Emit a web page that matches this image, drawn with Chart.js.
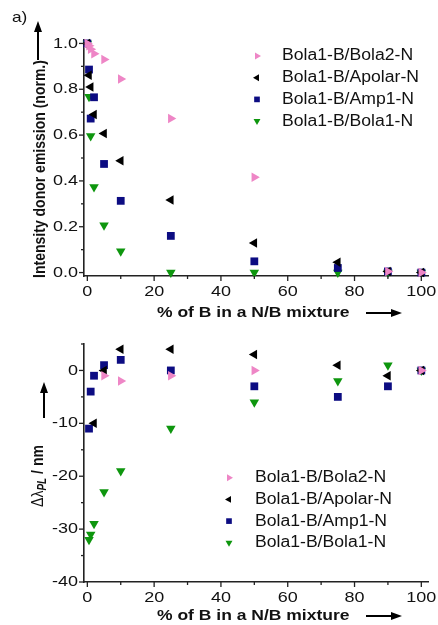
<!DOCTYPE html>
<html>
<head>
<meta charset="utf-8">
<script src="https://cdn.jsdelivr.net/npm/chart.js@4.4.0/dist/chart.umd.min.js"></script>
<style>
  html, body { margin: 0; padding: 0; background: #fff; }
  #wrap { position: relative; width: 438px; height: 625px; }
  canvas { position: absolute; left: 0; }
  #top { top: 0; }
  #bottom { top: 325px; }
</style>
</head>
<body>
<div id="wrap">
  <canvas id="top" width="438" height="325"></canvas>
  <canvas id="bottom" width="438" height="300"></canvas>
</div>
<script>
// % of B in the N/B mixture
const fractionB = [0, 0.5, 1, 2, 5, 10, 25, 50, 75, 90, 100];

// a) normalised donor emission (null = no point)
const bola2Emission  = [1.0, 0.99, 0.975, 0.955, 0.93, 0.845, 0.672, 0.416, null, 0.005, 0.0];
const apolarEmission = [1.0, 0.861, 0.81, 0.69, 0.607, 0.488, 0.317, 0.129, 0.045, 0.005, 0.0];
const amp1Emission   = [1.0, 0.886, 0.672, 0.765, 0.474, 0.313, 0.16, 0.049, 0.02, 0.005, 0.0];
const bola1Emission  = [1.0, 0.767, 0.596, 0.373, 0.207, 0.093, 0.0, 0.0, 0.0, 0.0, 0.0];

// b) PL shift in nm (null = no point)
const bola2Shift  = [null, null, null, null, -1, -2, -1, 0, null, null, 0];
const apolarShift = [null, null, null, -10, 0, 4, 4, 3, 1, -1, 0];
const amp1Shift   = [null, -11, -4, -1, 1, 2, 0, -3, -5, -3, 0];
const bola1Shift  = [null, -32, -31, -29, -23, -19, -11, -6, -2, 1, 0];

const seriesNames = ['Bola1-B/Bola2-N', 'Bola1-B/Apolar-N', 'Bola1-B/Amp1-N', 'Bola1-B/Bola1-N'];

const xMajor = [0, 20, 40, 60, 80, 100];
const xMinor = [10, 30, 50, 70, 90];
const emissionMajor = [0, 0.2, 0.4, 0.6, 0.8, 1.0];
const emissionMinor = [0.1, 0.3, 0.5, 0.7, 0.9];
const shiftMajor = [-40, -30, -20, -10, 0];
const shiftMinor = [-35, -25, -15, -5, 5];

const FONT = '"Liberation Sans", Arial, sans-serif';
const AXIS = '#222';
const styles = [
  { color: '#ee86c6', pointStyle: 'triangle', rotation: 90, radius: 5.5 },
  { color: '#000000', pointStyle: 'triangle', rotation: -90, radius: 5.5 },
  { color: '#0c0c82', pointStyle: 'rect', rotation: 0, radius: 5.5 },
  { color: '#0e960e', pointStyle: 'triangle', rotation: 180, radius: 5.5 }
];

function toPoints(ys) {
  return fractionB.map((x, i) => ({ x, y: ys[i] })).filter(p => p.y !== null);
}

function makeDatasets(seriesList) {
  return seriesList.map((ys, i) => ({
    label: seriesNames[i],
    data: toPoints(ys),
    pointStyle: styles[i].pointStyle,
    rotation: styles[i].rotation,
    pointRadius: styles[i].radius,
    backgroundColor: styles[i].color,
    borderColor: styles[i].color,
    borderWidth: 0,
    clip: false
  }));
}

// text with a small horizontal stretch, like the scanned figure
function drawText(ctx, str, x, y, font, align, sx) {
  ctx.save();
  ctx.font = font;
  ctx.fillStyle = '#111';
  ctx.translate(x, y);
  ctx.scale(sx, 1);
  ctx.textAlign = align;
  ctx.textBaseline = 'middle';
  ctx.fillText(str, 0, 0);
  ctx.restore();
}

function drawArrow(ctx, x1, y1, x2, y2) {
  const ang = Math.atan2(y2 - y1, x2 - x1);
  const head = 11, half = 4;
  ctx.save();
  ctx.strokeStyle = '#000';
  ctx.fillStyle = '#000';
  ctx.lineWidth = 2;
  ctx.beginPath();
  ctx.moveTo(x1, y1);
  ctx.lineTo(x2 - Math.cos(ang) * head * 0.8, y2 - Math.sin(ang) * head * 0.8);
  ctx.stroke();
  ctx.translate(x2, y2);
  ctx.rotate(ang);
  ctx.beginPath();
  ctx.moveTo(0, 0);
  ctx.lineTo(-head, -half);
  ctx.lineTo(-head, half);
  ctx.closePath();
  ctx.fill();
  ctx.restore();
}

const decor = {
  id: 'decor',
  afterDraw(chart, args, opts) {
    const ctx = chart.ctx;
    const xs = chart.scales.x, ys = chart.scales.y;
    const area = chart.chartArea;
    const tickFont = '15px ' + FONT;

    ctx.save();
    ctx.strokeStyle = AXIS;
    ctx.lineWidth = 1.3;
    // x ticks
    xMajor.concat(xMinor).forEach(v => {
      const px = xs.getPixelForValue(v);
      const len = xMajor.includes(v) ? 5 : 3;
      ctx.beginPath();
      ctx.moveTo(px, area.bottom);
      ctx.lineTo(px, area.bottom + len);
      ctx.stroke();
    });
    // y ticks
    opts.yMajor.concat(opts.yMinor).forEach(v => {
      const py = ys.getPixelForValue(v);
      const len = opts.yMajor.includes(v) ? 5 : 3;
      ctx.beginPath();
      ctx.moveTo(area.left, py);
      ctx.lineTo(area.left - len, py);
      ctx.stroke();
    });
    ctx.restore();

    xMajor.forEach(v => {
      drawText(ctx, String(v), xs.getPixelForValue(v), area.bottom + 16, tickFont, 'center', 1.2);
    });
    opts.yMajor.forEach(v => {
      drawText(ctx, opts.yFormat(v), area.left - 6, ys.getPixelForValue(v), tickFont, 'right', 1.2);
    });

    // x title + arrow
    const ty = area.bottom + opts.xTitleOffset;
    drawText(ctx, '% of B in a N/B mixture', 157, ty, 'bold 14px ' + FONT, 'left', 1.25);
    drawArrow(ctx, 366, ty, 402, ty);

    // panel label
    drawText(ctx, opts.panel, 12, opts.panelY, '15px ' + FONT, 'left', 1.15);

    // y title
    opts.drawYTitle(ctx);

    // legend
    opts.legend.rows.forEach((row, i) => {
      const y = opts.legend.y + i * 21.7;
      const st = styles[i];
      ctx.save();
      ctx.fillStyle = st.color;
      Chart.helpers.drawPoint(ctx, { pointStyle: st.pointStyle, rotation: st.rotation, radius: 4, borderWidth: 0 }, opts.legend.markerX, y);
      ctx.restore();
      drawText(ctx, row, opts.legend.textX, y, '16px ' + FONT, 'left', 1.1);
    });
  }
};

function baseOptions(yMin, yMax, pad, xHeight, decorOpts) {
  return {
    responsive: false,
    animation: false,
    layout: { padding: pad, autoPadding: false },
    plugins: { legend: { display: false }, tooltip: { enabled: false }, decor: decorOpts },
    scales: {
      x: {
        type: 'linear', min: -1, max: 102,
        ticks: { display: false },
        grid: { display: false },
        border: { display: true, color: AXIS, width: 1.6 },
        afterFit: s => { s.height = xHeight; }
      },
      y: {
        type: 'linear', min: yMin, max: yMax,
        ticks: { display: false },
        grid: { display: false },
        border: { display: true, color: AXIS, width: 1.6 },
        afterFit: s => { s.width = 84; }
      }
    }
  };
}

new Chart(document.getElementById('top'), {
  type: 'scatter',
  data: { datasets: makeDatasets([bola2Emission, apolarEmission, amp1Emission, bola1Emission]) },
  options: baseOptions(-0.015, 1.015, { top: 40, right: 10, left: 0, bottom: 0 }, 49, {
    yMajor: emissionMajor,
    yMinor: emissionMinor,
    yFormat: v => v.toFixed(1),
    xTitleOffset: 37,
    panel: 'a)',
    panelY: 18,
    legend: { rows: seriesNames, y: 56, markerX: 257, textX: 282 },
    drawYTitle: ctx => {
      ctx.save();
      ctx.translate(40, 169);
      ctx.rotate(-Math.PI / 2);
      ctx.scale(1, 1.2);
      ctx.font = 'bold 14px ' + FONT;
      ctx.fillStyle = '#111';
      ctx.textAlign = 'center';
      ctx.textBaseline = 'middle';
      ctx.fillText('Intensity donor emission (norm.)', 0, 0);
      ctx.restore();
      drawArrow(ctx, 38, 60, 38, 21);
    }
  }),
  plugins: [decor]
});

new Chart(document.getElementById('bottom'), {
  type: 'scatter',
  data: { datasets: makeDatasets([bola2Shift, apolarShift, amp1Shift, bola1Shift]) },
  options: baseOptions(-40, 5, { top: 19, right: 10, left: 0, bottom: 0 }, 43, {
    yMajor: shiftMajor,
    yMinor: shiftMinor,
    yFormat: v => String(v),
    xTitleOffset: 34,
    panel: 'b)',
    panelY: -7,
    legend: { rows: seriesNames, y: 477.7 - 325, markerX: 229, textX: 255 },
    drawYTitle: ctx => {
      const parts = [
        { t: '\u0394\u03bb', f: '14px ' + FONT, dy: 0 },
        { t: 'PL', f: 'italic bold 10px ' + FONT, dy: 4 },
        { t: ' / nm', f: 'bold 14px ' + FONT, dy: 0 }
      ];
      ctx.save();
      ctx.translate(38, 476 - 325);
      ctx.rotate(-Math.PI / 2);
      ctx.scale(1, 1.2);
      ctx.fillStyle = '#111';
      ctx.textBaseline = 'middle';
      ctx.textAlign = 'left';
      let total = 0;
      parts.forEach(p => { ctx.font = p.f; p.w = ctx.measureText(p.t).width; total += p.w; });
      let cx = -total / 2;
      parts.forEach(p => { ctx.font = p.f; ctx.fillText(p.t, cx, p.dy); cx += p.w; });
      ctx.restore();
      drawArrow(ctx, 44, 418 - 325, 44, 382 - 325);
    }
  }),
  plugins: [decor]
});
</script>
</body>
</html>
